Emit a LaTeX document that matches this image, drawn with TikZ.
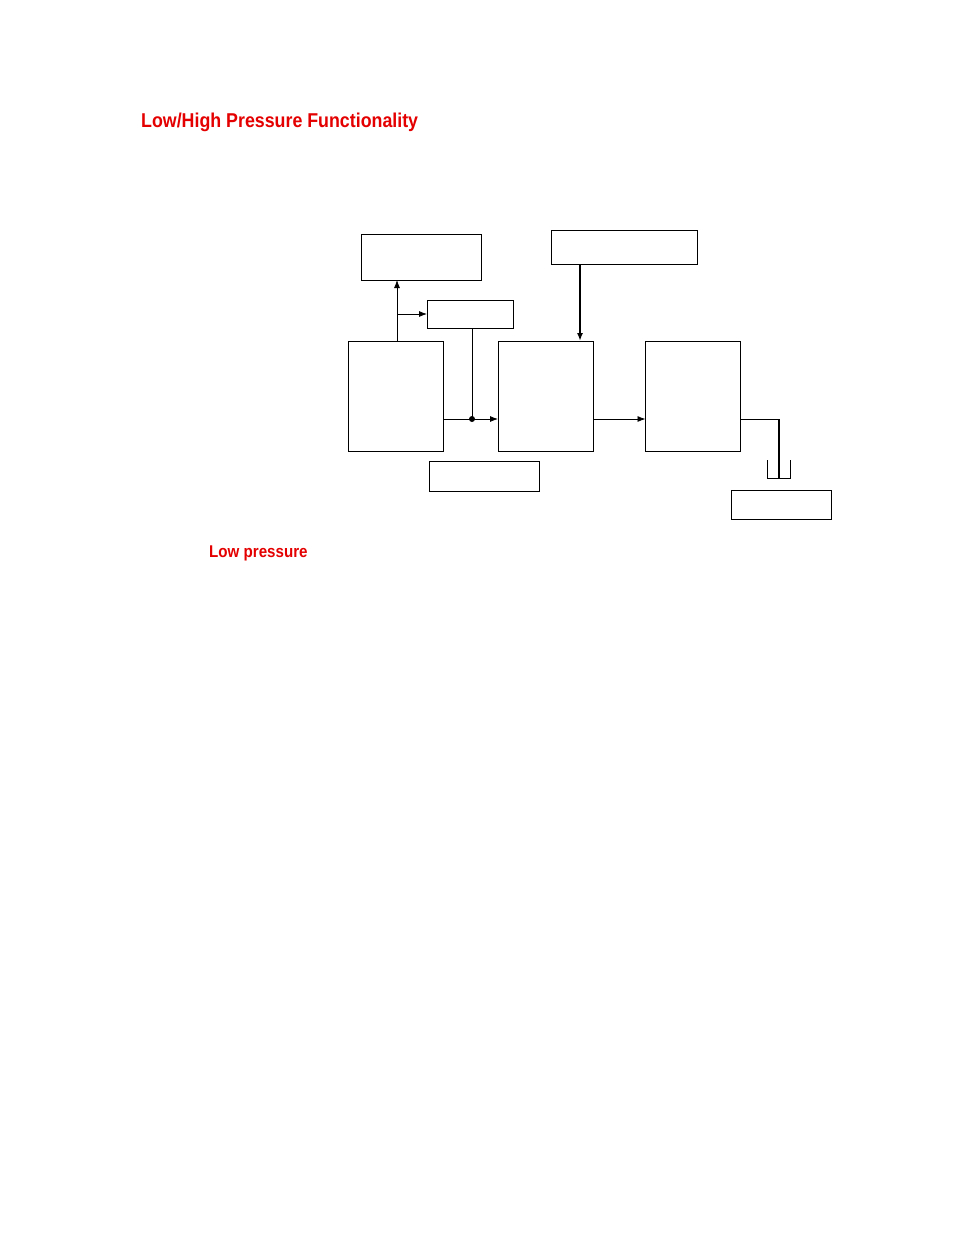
\documentclass[tikz,border=0pt]{standalone}
\usepackage{fontspec}
\setmainfont{Liberation Sans}
\newfontfamily\titlefont[FakeStretch=0.89]{Liberation Sans Bold}
\usetikzlibrary{arrows.meta}
\definecolor{titlered}{RGB}{228,0,0}
\begin{document}
\begin{tikzpicture}[x=1pt,y=-1pt,
  blk/.style={draw, line width=0.9pt, inner sep=0pt, outer sep=0pt},
  wire/.style={line width=0.8pt},
  arr/.style={wire, -{Latex[length=8pt,width=6pt]}},
  heavy/.style={line width=1.6pt},
  heading/.style={anchor=base west, inner sep=0pt, text=titlered}]
\useasboundingbox (0,0) rectangle (954,1235);
% title texts
\node[heading, font=\titlefont\fontsize{20}{22}\selectfont] (title) at (141,127) {Low/High Pressure Functionality};
\node[heading, font=\titlefont\fontsize{17}{19}\selectfont] (lowp) at (209,557) {Low pressure};
% boxes
\node[blk, minimum width=120pt, minimum height=46pt] (A) at (421,257) {};
\node[blk, minimum width=86pt, minimum height=28pt] (B) at (470,314) {};
\node[blk, minimum width=95pt, minimum height=110pt] (C) at (396,396) {};
\node[blk, minimum width=95pt, minimum height=110pt] (D) at (545.5,396) {};
\node[blk, minimum width=146pt, minimum height=34pt] (E) at (624,247) {};
\node[blk, minimum width=95pt, minimum height=110pt] (F) at (693,396) {};
\node[blk, minimum width=110pt, minimum height=30pt] (G) at (484,476) {};
\node[blk, minimum width=100pt, minimum height=29pt] (H) at (781,504.5) {};
% helper coordinates
\coordinate (cx) at (397,0);
\coordinate (j) at (472,419);
\coordinate (ex) at (580,0);
\coordinate (gx) at (779,478);
% connectors
\draw[arr] (C.north -| cx) -- (A.south -| cx);
\draw[arr] (B.west -| cx) -- (B.west);
\draw[wire] (j |- B.south) -- (j);
\fill (j) circle (3pt);
\draw[arr] (C.east |- j) -- (D.west |- j);
\draw[heavy, -{Latex[length=8pt,width=6pt]}] (E.south -| ex) -- (D.north -| ex);
\draw[arr] (D.east |- j) -- (F.west |- j);
\draw[wire] (F.east |- j) -- (gx |- j);
\draw[heavy] (gx |- j) -- (gx);
\draw[wire] (767,460) -- (767,478) -- (790,478) -- (790,460);
\end{tikzpicture}
\end{document}
